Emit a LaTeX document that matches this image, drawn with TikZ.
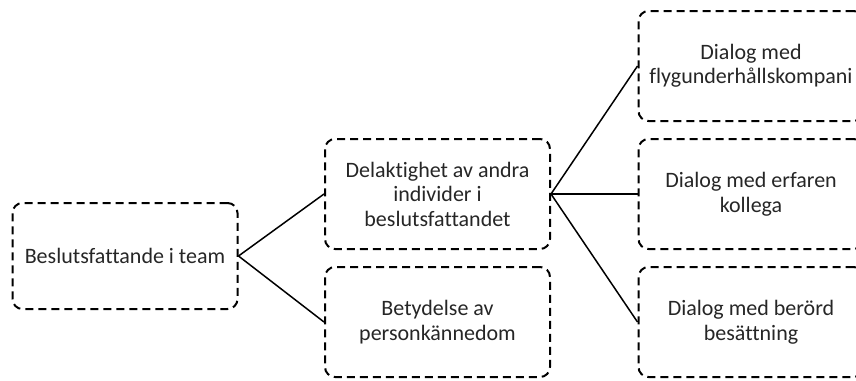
\documentclass[tikz,border=0pt]{standalone}
\usepackage{fontspec}
\setmainfont{Carlito}[Ligatures=NoCommon]
\definecolor{txt}{HTML}{262626}
\begin{document}
\begin{tikzpicture}[x=1pt,y=-1pt,
  box/.style={draw=black, line width=2pt, dash pattern=on 8pt off 5pt,
    rounded corners=10pt, minimum width=225pt, minimum height=110pt,
    align=center, text=txt, inner sep=2pt,
    font=\fontsize{22}{24.5}\selectfont},
  conn/.style={draw=black, line width=1.5pt}]
\path[use as bounding box, clip] (0,0) rectangle (856,380);
\node[box, minimum height=106pt] (a) at (125,256) {Beslutsfattande i team};
\node[box] (b) at (437.5,194) {Delaktighet av andra\\individer i\\beslutsfattandet};
\node[box] (c) at (437.5,322) {Betydelse av\\personkännedom};
\node[box] (d) at (751,66) {Dialog med\\flygunderhållskompani};
\node[box] (e) at (751,194) {Dialog med erfaren\\kollega};
\node[box] (f) at (751,322) {Dialog med berörd\\besättning};
\draw[conn] (a.east) -- (b.west);
\draw[conn] (a.east) -- (c.west);
\draw[conn] (b.east) -- (d.west);
\draw[conn] (b.east) -- (e.west);
\draw[conn] (b.east) -- (f.west);
\end{tikzpicture}
\end{document}
